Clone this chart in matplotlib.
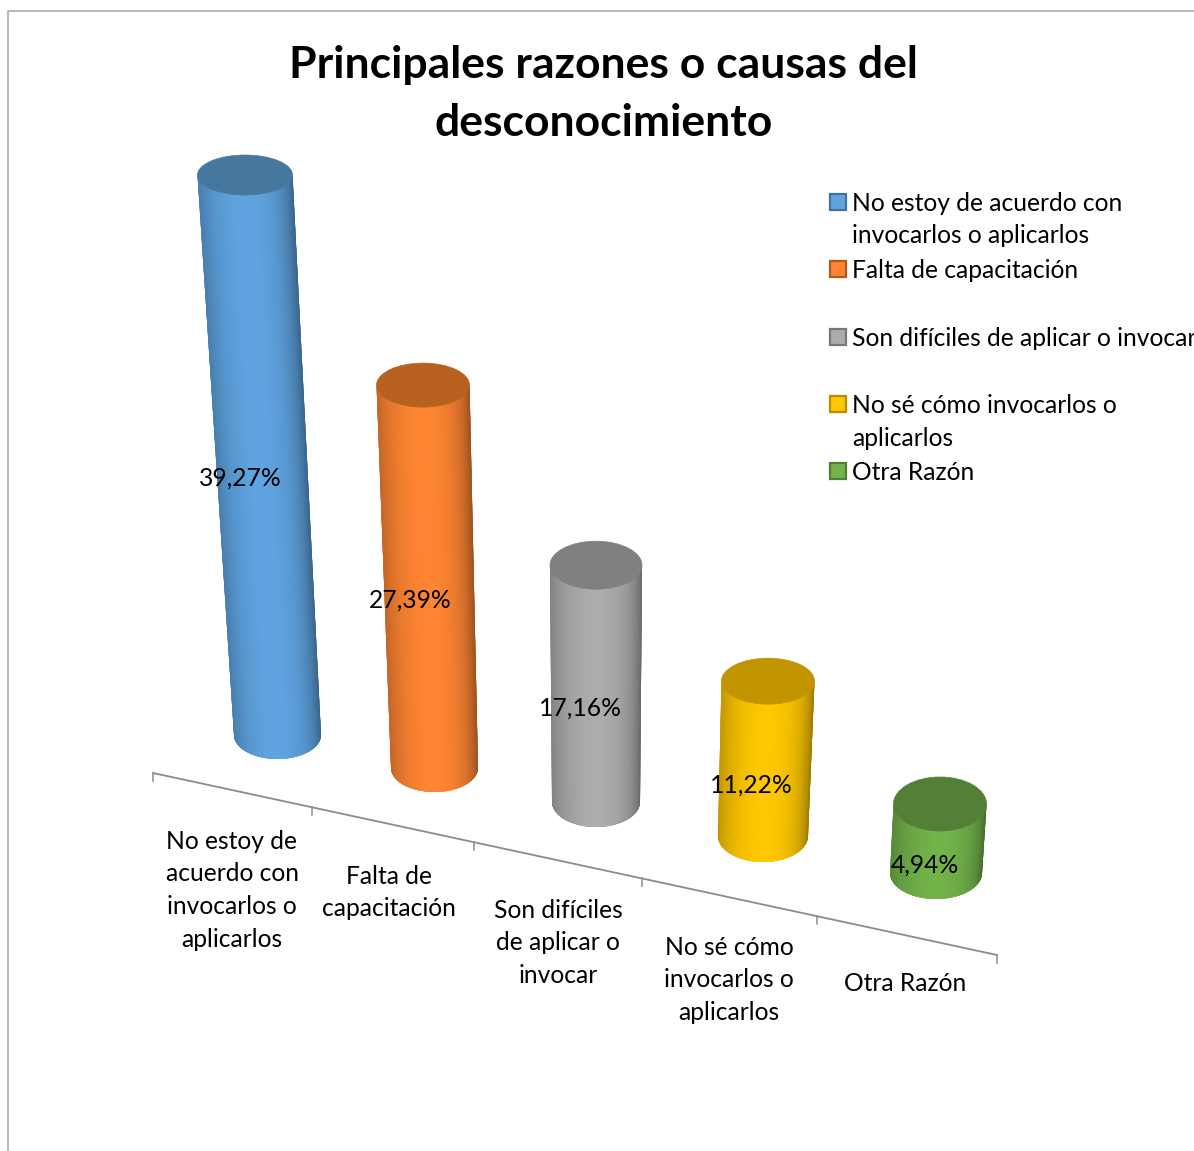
import numpy as np
import matplotlib
matplotlib.use("Agg")
import matplotlib.pyplot as plt
from matplotlib.collections import PolyCollection
from matplotlib.patches import Ellipse, Rectangle
from matplotlib.colors import to_rgb

# ---- data ----
categories = ["No estoy de\nacuerdo con\ninvocarlos o\naplicarlos",
              "Falta de\ncapacitación",
              "Son difíciles\nde aplicar o\ninvocar",
              "No sé cómo\ninvocarlos o\naplicarlos",
              "Otra Razón"]
legend_labels = ["No estoy de acuerdo con\ninvocarlos o aplicarlos",
                 "Falta de capacitación",
                 "Son difíciles de aplicar o invocar",
                 "No sé cómo invocarlos o\naplicarlos",
                 "Otra Razón"]
values = [39.27, 27.39, 17.16, 11.22, 4.94]
value_labels = ["39,27%", "27,39%", "17,16%", "11,22%", "4,94%"]
title_lines = ["Principales razones o causas del", "desconocimiento"]

# ---- style / layout (pixel space of the 3-D projection) ----
body_colors = ["#5FA4E1", "#FF8532", "#ACACAC", "#FFC800", "#72B34A"]
cap_colors = ["#45779F", "#B8601F", "#808080", "#C29400", "#547F36"]
legend_edge = ["#41719C", "#AE5A21", "#787878", "#BC8C00", "#507E32"]
base_cx = [277.5, 434.5, 596, 763, 936]
base_cy = [735, 768, 802, 836, 873]
base_a = [43.5, 43.5, 44, 45, 46]
base_b = [24, 24, 25, 26, 26]
lean = [-0.0580, -0.0300, 0.0, 0.032, 0.058]   # x shift per px of height
scale = [14.26, 13.98, 13.8, 13.8, 13.97]      # px per percent
top_a = [47.5, 46.5, 46, 46.5, 46.5]
top_b = [20, 22, 24, 23, 27]
label_dx = [-21, -19, -16, -14, -13]
label_dy = [31, 31, 32, 34, 34]
cat_x = [232, 389, 558, 729, 905]
cat_base = [848.5, 883.5, 917.5, 954.5, 990.5]
cat_step = 32.7
tick_x = [153, 312, 474, 642, 817, 997]
leg_text_base = [[210.5, 242.5], [277.5], [345.5], [412.5, 445.5], [479.5]]
FS = 17.75
FONT = "Lato"

plt.rcParams["font.family"] = [FONT, "DejaVu Sans"]
fig = plt.figure(figsize=(11.94, 11.51), dpi=100, facecolor="white")
ax = fig.add_axes([0, 0, 1, 1])
ax.set_xlim(0, 1194)
ax.set_ylim(1151, 0)
ax.axis("off")

# chart frame
ax.plot([8, 8, 1194], [1151, 11, 11], color="#ABABAB", lw=1.2, zorder=1)


def shade(u):
    f = 1 - 0.18 * np.abs(u) ** 1.8
    if u > 0:
        f -= 0.20 * u ** 5
    else:
        f -= 0.06 * abs(u) ** 5
    return f


def cylinder(cxb, cyb, ab, bb, h, l, at, bt, body, cap):
    cxt, cyt = cxb + l * h, cyb - h
    th = np.linspace(np.pi, 0, 121)
    polys, cols = [], []
    rgb = np.array(to_rgb(body))
    for k in range(len(th) - 1):
        t0 = th[k]
        t1 = th[min(k + 4, len(th) - 1)]   # overlap neighbours to hide seams
        polys.append([(cxt + at * np.cos(t0), cyt + bt * np.sin(t0)),
                      (cxt + at * np.cos(t1), cyt + bt * np.sin(t1)),
                      (cxb + ab * np.cos(t1), cyb + bb * np.sin(t1)),
                      (cxb + ab * np.cos(t0), cyb + bb * np.sin(t0))])
        cols.append(rgb * shade(np.cos((th[k] + th[k + 1]) / 2)))
    pc = PolyCollection(polys, facecolors=cols, edgecolors="none", linewidths=0, zorder=3)
    ax.add_collection(pc)
    ax.add_patch(Ellipse((cxt, cyt), 2 * at, 2 * bt, facecolor=cap, edgecolor=cap, lw=0.5, zorder=4))
    return cxt, cyt


# axis
slope = (955 - 773) / (997 - 153)
axis_y = lambda x: 773 + (x - 153) * slope
ax.plot([tick_x[0], tick_x[-1]], [axis_y(tick_x[0]), axis_y(tick_x[-1])], color="#8C8C8C", lw=1.3, zorder=2)
for tx in tick_x:
    ax.plot([tx, tx], [axis_y(tx), axis_y(tx) + 8], color="#8C8C8C", lw=1.1, zorder=2)

# cylinders and value labels
for i, v in enumerate(values):
    h = v * scale[i]
    cxt, cyt = cylinder(base_cx[i], base_cy[i], base_a[i], base_b[i], h, lean[i],
                        top_a[i], top_b[i], body_colors[i], cap_colors[i])
    ax.text((cxt + base_cx[i]) / 2 + label_dx[i], (cyt + base_cy[i]) / 2 + label_dy[i],
            value_labels[i], ha="center", va="baseline", fontsize=FS, color="black", zorder=6)

# category labels
for i, c in enumerate(categories):
    for j, line in enumerate(c.split("\n")):
        ax.text(cat_x[i], cat_base[i] + j * cat_step, line, ha="center", va="baseline",
                fontsize=FS, color="black", zorder=6)

# legend
for i, lab in enumerate(legend_labels):
    y0 = leg_text_base[i][0]
    ax.add_patch(Rectangle((830, y0 - 16.5), 15.5, 15.5, facecolor=body_colors[i],
                           edgecolor=legend_edge[i], lw=1.6, zorder=5))
    for yb, line in zip(leg_text_base[i], lab.split("\n")):
        ax.text(852, yb, line, ha="left", va="baseline", fontsize=FS, color="black", zorder=6)

# title
ax.text(603.5, 78, title_lines[0], ha="center", va="baseline", fontsize=32, fontweight="bold", color="black")
ax.text(603.5, 136, title_lines[1], ha="center", va="baseline", fontsize=32, fontweight="bold", color="black")

fig.savefig("out.png", dpi=100, facecolor="white")
